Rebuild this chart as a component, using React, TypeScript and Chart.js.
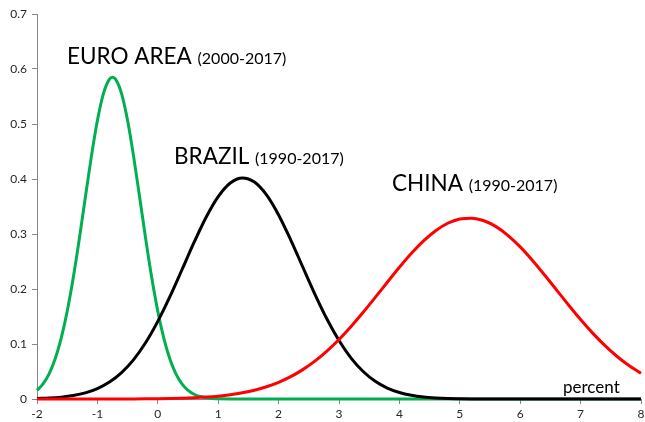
import React, { useEffect, useRef } from "react";
import { Chart, registerables } from "chart.js";

Chart.register(...registerables);

// Euro area (2000-2017) density
const euroX = [-2, -1.9, -1.8, -1.7, -1.6, -1.5, -1.4, -1.3, -1.2, -1.1, -1.0, -0.9, -0.8, -0.75, -0.7, -0.6, -0.5, -0.4, -0.3, -0.2, -0.1, 0.0, 0.1, 0.2, 0.3, 0.4, 0.5, 0.6, 0.7, 0.8, 0.9, 1.0, 1.5, 2, 3, 4, 5, 6, 7, 8];
const euroY = [0.0158, 0.0275, 0.0457, 0.0726, 0.1101, 0.1594, 0.2203, 0.2907, 0.3663, 0.4407, 0.5063, 0.5553, 0.5816, 0.585, 0.5816, 0.5553, 0.5063, 0.4407, 0.3663, 0.2907, 0.2203, 0.1594, 0.1101, 0.0726, 0.0457, 0.0275, 0.0158, 0.0087, 0.0045, 0.0023, 0.0011, 0.0005, 0, 0, 0, 0, 0, 0, 0, 0];

// Common x grid for Brazil and China
const gridX = [-2.0, -1.8, -1.6, -1.4, -1.2, -1.0, -0.8, -0.6, -0.4, -0.2, 0.0, 0.2, 0.4, 0.6, 0.8, 1.0, 1.2, 1.4, 1.6, 1.8, 2.0, 2.2, 2.4, 2.6, 2.8, 3.0, 3.2, 3.4, 3.6, 3.8, 4.0, 4.2, 4.4, 4.6, 4.8, 5.0, 5.2, 5.4, 5.6, 5.8, 6.0, 6.2, 6.4, 6.6, 6.8, 7.0, 7.2, 7.4, 7.6, 7.8, 8.0];

// Brazil (1990-2017)
const brazilY = [0.0009, 0.0018, 0.0034, 0.0063, 0.0111, 0.0189, 0.0307, 0.048, 0.0717, 0.1027, 0.1412, 0.186, 0.235, 0.2846, 0.3305, 0.368, 0.3928, 0.402, 0.3944, 0.371, 0.3347, 0.2895, 0.24, 0.1908, 0.1454, 0.1063, 0.0744, 0.05, 0.0322, 0.0199, 0.0118, 0.0067, 0.0036, 0.0019, 0.0009, 0.0005, 0.0002, 0.0001, 0, 0, 0, 0, 0, 0, 0, 0, 0, 0, 0, 0, 0];

// China (1990-2017)
const chinaY = [0, 0, 0, 0.00001, 0.00002, 0.00004, 0.00007, 0.00012, 0.0002, 0.00034, 0.00056, 0.0009, 0.0014, 0.0023, 0.0035, 0.0052, 0.0077, 0.0112, 0.0159, 0.0222, 0.0303, 0.0406, 0.0534, 0.0689, 0.0872, 0.1083, 0.1319, 0.1576, 0.1847, 0.2123, 0.2394, 0.2648, 0.2874, 0.3059, 0.3195, 0.3272, 0.3288, 0.3241, 0.3134, 0.2972, 0.2766, 0.2524, 0.226, 0.1985, 0.171, 0.1445, 0.1198, 0.0974, 0.0777, 0.0608, 0.0467];

const seriesNames = ["EURO AREA", "BRAZIL", "CHINA"];
const seriesPeriods = ["(2000-2017)", "(1990-2017)", "(1990-2017)"];
const axisUnit = "percent";

const FONT = "Lato, 'Open Sans', sans-serif";

const labelPlugin = {
  id: "seriesLabels",
  afterDatasetsDraw(chart: any) {
    const ctx = chart.ctx;
    ctx.save();
    ctx.fillStyle = "#000";
    ctx.textBaseline = "alphabetic";
    ctx.textAlign = "left";
    const spots = [
      { x: 67, y: 64 },
      { x: 174, y: 164 },
      { x: 392, y: 190.5 },
    ];
    seriesNames.forEach((name, i) => {
      const s = spots[i];
      ctx.font = `22.5px ${FONT}`;
      ctx.fillText(name, s.x, s.y);
      const w = ctx.measureText(name + " ").width;
      ctx.font = `16px ${FONT}`;
      ctx.fillText(seriesPeriods[i], s.x + w, s.y);
    });
    ctx.font = `17px ${FONT}`;
    ctx.fillText(axisUnit, 563, 393);
    ctx.restore();
  },
};

export default function App() {
  const ref = useRef<HTMLCanvasElement>(null);
  useEffect(() => {
    document.body.style.margin = "0";
    const canvas = ref.current!;
    const mk = (xs: number[], ys: number[]) => xs.map((x, i) => ({ x, y: ys[i] }));
    const chart = new Chart(canvas, {
      type: "line",
      data: {
        datasets: [
          {
            label: seriesNames[2],
            data: mk(gridX, chinaY),
            borderColor: "#FF0000",
            borderWidth: 3,
            pointRadius: 0,
            cubicInterpolationMode: "monotone",
            clip: 6,
          },
          {
            label: seriesNames[1],
            data: mk(gridX, brazilY),
            borderColor: "#000000",
            borderWidth: 3,
            pointRadius: 0,
            cubicInterpolationMode: "monotone",
            clip: 6,
          },
          {
            label: seriesNames[0],
            data: mk(euroX, euroY),
            borderColor: "#00B050",
            borderWidth: 3,
            pointRadius: 0,
            cubicInterpolationMode: "monotone",
            clip: 6,
          },
        ],
      } as any,
      options: {
        animation: false,
        responsive: false,
        layout: { padding: { left: 0, top: 14, right: 4, bottom: 0 } },
        plugins: { legend: { display: false }, tooltip: { enabled: false } },
        scales: {
          x: {
            type: "linear",
            min: -2,
            max: 8,
            ticks: { stepSize: 1, color: "#262626", font: { family: FONT, size: 12 }, padding: 3 },
            grid: { drawOnChartArea: false, drawTicks: true, tickLength: 5, color: "#868686" },
            border: { color: "#868686", width: 1 },
            afterFit: (s: any) => {
              s.height = 23;
              s.paddingRight = 0;
              s.paddingLeft = 0;
            },
          },
          y: {
            type: "linear",
            min: 0,
            max: 0.7,
            ticks: { stepSize: 0.1, color: "#262626", font: { family: FONT, size: 12 }, padding: 5 },
            grid: { drawOnChartArea: false, drawTicks: true, tickLength: 5, color: "#868686" },
            border: { color: "#868686", width: 1 },
            afterFit: (s: any) => {
              s.width = 37;
              s.paddingTop = 0;
              s.paddingBottom = 0;
            },
          },
        },
      } as any,
      plugins: [labelPlugin],
    });
    return () => chart.destroy();
  }, []);
  return <canvas ref={ref} width={645} height={422} style={{ display: "block" }} />;
}
